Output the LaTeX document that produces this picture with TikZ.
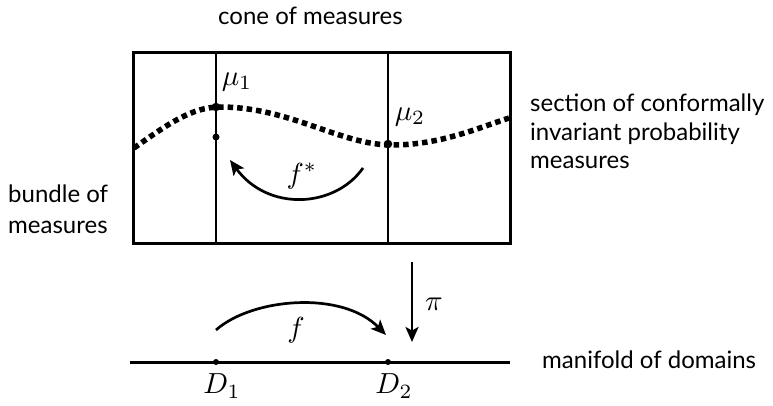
\documentclass[tikz,border=0pt]{standalone}
\usepackage{graphicx}
\usepackage{fontspec}
\setmainfont{Lato}
\usetikzlibrary{arrows.meta}
\newcommand{\scaledmath}[1]{\scalebox{2.9}{$#1$}}
\begin{document}
\begin{tikzpicture}[x=1pt,y=-1pt,
  lbl/.style={font=\fontsize{24}{28}\selectfont, inner sep=0pt, align=left},
  mathlbl/.style={inner sep=0pt},
  dot/.style={circle, fill=black, inner sep=0pt, minimum size=8.5pt},
  fiber/.style={line width=2pt},
  bigarrow/.style={line width=2.7pt, -{Stealth[length=15pt,width=13pt,inset=3.5pt]}},
  section/.style={line width=5.5pt, dash pattern=on 5.5pt off 4pt}
]
\useasboundingbox (0,0) rectangle (773,406);
% box (cone of measures)
\draw[line width=3pt] (133,53) rectangle (510,243);
% fibers
\coordinate (f1t) at (216,53);
\coordinate (f1b) at (216,243);
\coordinate (f2t) at (388,53);
\coordinate (f2b) at (388,243);
\draw[fiber] (f1t) -- (f1b);
\draw[fiber] (f2t) -- (f2b);
% section curve
\coordinate (s0) at (134,148);
\coordinate (s3) at (509,118);
\draw[section] (s0) .. controls (168,124) and (192,107) .. (220,107)
  .. controls (290,107) and (340,145) .. (392,145)
  .. controls (440,145) and (478,128) .. (s3);
% dots
\node[dot] (m1) at (216,107) {};
\node[dot, minimum size=7pt] (m1b) at (216,137) {};
\node[dot] (m2) at (388,144) {};
% measure labels
\node[mathlbl] (mu1) at (237,82) {\scaledmath{\mu_1}};
\node[mathlbl] (mu2) at (410,117) {\scaledmath{\mu_2}};
% f* arrow
\coordinate (fsA) at (363,168);
\coordinate (fsB) at (230,160);
\draw[bigarrow] (fsA) .. controls (335,208) and (268,212) .. (fsB);
\node[mathlbl] (fstar) at (302,176) {\scaledmath{f^*}};
% base manifold
\coordinate (bL) at (130,362);
\coordinate (bR) at (510,362);
\draw[line width=3pt] (bL) -- (bR);
\node[dot, minimum size=6pt] (d1) at (216,362) {};
\node[dot, minimum size=6pt] (d2) at (388,362) {};
\node[mathlbl] (D1) at (222,386) {\scaledmath{D_1}};
\node[mathlbl] (D2) at (394,386) {\scaledmath{D_2}};
% f arrow
\coordinate (fA) at (216,330);
\coordinate (fB) at (386,335);
\draw[bigarrow] (fA) .. controls (252,298) and (342,290) .. (fB);
\node[mathlbl] (flbl) at (296,330) {\scaledmath{f}};
% pi arrow
\coordinate (pA) at (412,262);
\coordinate (pB) at (412,342);
\draw[bigarrow] (pA) -- (pB);
\node[mathlbl] (pilbl) at (434,304) {\scaledmath{\pi}};
% text labels
\node[lbl, anchor=base west] (cone) at (218,25) {cone of measures};
\node[lbl, anchor=base west] (sect) at (530,168) {section of conformally\\invariant probability\\measures};
\node[lbl, anchor=base west, font=\fontsize{24}{30}\selectfont] (bund) at (8,233) {bundle of\\measures};
\node[lbl, anchor=base west] (mani) at (542,368) {manifold of domains};
\end{tikzpicture}
\end{document}
